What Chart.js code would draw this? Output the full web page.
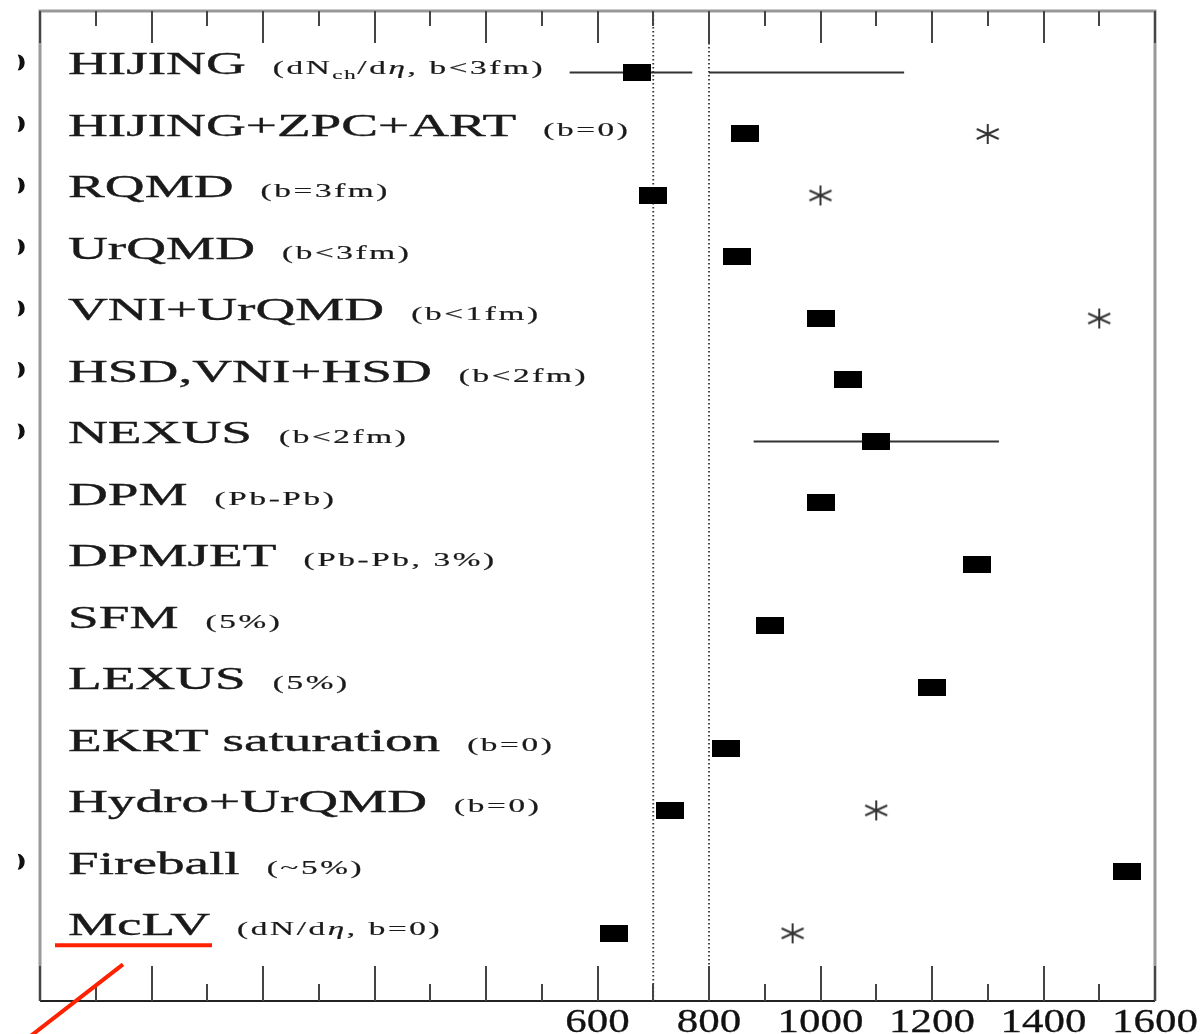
<!DOCTYPE html>
<html>
<head>
<meta charset="utf-8">
<title>Model predictions of dN/dη</title>
<script src="https://cdn.jsdelivr.net/npm/chart.js@4.4.0/dist/chart.umd.min.js"></script>
<style>
body { margin: 0; background: #fff; }
#chart { display: block; }
</style>
</head>
<body>
<canvas id="chart" width="1204" height="1034"></canvas>
<script>

// one row per model, top to bottom
var models = ['HIJING', 'HIJING+ZPC+ART', 'RQMD', 'UrQMD', 'VNI+UrQMD', 'HSD,VNI+HSD', 'NEXUS',
    'DPM', 'DPMJET', 'SFM', 'LEXUS', 'EKRT saturation', 'Hydro+UrQMD', 'Fireball', 'McLV'];
var notes = ['(dN_{ch}/dη, b<3fm)', '(b=0)', '(b=3fm)', '(b<3fm)', '(b<1fm)', '(b<2fm)', '(b<2fm)',
    '(Pb-Pb)', '(Pb-Pb, 3%)', '(5%)', '(5%)', '(b=0)', '(b=0)', '(~5%)', '(dN/dη, b=0)'];

// black squares
var multiplicity = [670, 865, 700, 850, 1000, 1050, 1100, 1000, 1280, 910, 1200, 830, 730, 1550, 630];
// asterisks
var starValues = [null, 1300, 1000, null, 1500, null, null, null, null, null, null, null, 1100, null, 950];

// horizontal bars (HIJING bar is broken around 800)
var errorRows = [0, 0, 6];
var errorFrom = [550, 800, 880];
var errorTo = [770, 1150, 1320];

// dotted vertical lines
var refLines = [700, 800];

// cut-off markers at the left edge
var leftMarkRows = [0, 1, 2, 3, 4, 5, 6, 13];
var leftMarkX = -440;

var xMin = -400;
var xMax = 1600;
var yMin = -1;
var yMax = 15.1;
var xMajorTicks = [-400, -200, 0, 200, 400, 600, 800, 1000, 1200, 1400, 1600];
var xMinorTicks = [-300, -100, 100, 300, 500, 700, 900, 1100, 1300, 1500];
var xTickLabels = [600, 800, 1000, 1200, 1400, 1600];

var serif = '"Liberation Serif", "DejaVu Serif", serif';

function makeSquare() {
    var c = document.createElement('canvas');
    c.width = 28;
    c.height = 17;
    var g = c.getContext('2d');
    g.fillStyle = '#000';
    g.fillRect(0, 0, 28, 17);
    return c;
}

function makeStar() {
    var c = document.createElement('canvas');
    c.width = 26;
    c.height = 24;
    var g = c.getContext('2d');
    g.strokeStyle = '#333';
    g.lineWidth = 2;
    g.beginPath();
    g.moveTo(13, 2); g.lineTo(13, 22);
    g.moveTo(2, 7); g.lineTo(24, 17);
    g.moveTo(2, 17); g.lineTo(24, 7);
    g.stroke();
    return c;
}

function drawText(ctx, text, x, y, font, stretch, spacing, weight) {
    ctx.save();
    ctx.font = font;
    ctx.letterSpacing = spacing + 'px';
    var w = ctx.measureText(text).width;
    ctx.translate(x, y);
    ctx.scale(stretch, 1);
    ctx.fillText(text, 0, 0);
    if (weight) {
        ctx.strokeStyle = ctx.fillStyle;
        ctx.lineWidth = weight;
        ctx.strokeText(text, 0, 0);
    }
    ctx.restore();
    return w * stretch;
}

// note text: _{..} is a subscript, η is italic
function drawNote(ctx, note, x, y) {
    var parts = note.split(/(_\{[^}]*\}|η)/);
    for (var i = 0; i < parts.length; i++) {
        var p = parts[i];
        if (!p) continue;
        if (p.indexOf('_{') === 0) {
            x += drawText(ctx, p.slice(2, -1), x, y + 5, '13px ' + serif, 1.75, 1, 0.2);
        } else if (p === 'η') {
            x += drawText(ctx, p, x, y, 'italic 19px ' + serif, 1.75, 1.5, 0.2);
        } else {
            x += drawText(ctx, p, x, y, '19px ' + serif, 1.75, 1.5, 0.2);
        }
    }
    return x;
}

var decorations = {
    id: 'decorations',
    afterDraw: function(chart) {
        var ctx = chart.ctx;
        var area = chart.chartArea;
        var xs = chart.scales.x;
        var ys = chart.scales.y;

        // frame
        ctx.save();
        ctx.strokeStyle = '#999';
        ctx.lineWidth = 3;
        ctx.beginPath();
        ctx.moveTo(area.left, area.bottom);
        ctx.lineTo(area.left, area.top);
        ctx.lineTo(area.right, area.top);
        ctx.lineTo(area.right, area.bottom);
        ctx.stroke();
        ctx.strokeStyle = '#222';
        ctx.lineWidth = 2;
        ctx.beginPath();
        ctx.moveTo(area.left, area.bottom);
        ctx.lineTo(area.right, area.bottom);
        ctx.stroke();

        // inward ticks, top and bottom
        ctx.strokeStyle = '#444';
        ctx.lineWidth = 2;
        ctx.beginPath();
        xMajorTicks.forEach(function(v) {
            var px = Math.round(xs.getPixelForValue(v));
            ctx.moveTo(px, area.top);
            ctx.lineTo(px, area.top + 32);
            ctx.moveTo(px, area.bottom);
            ctx.lineTo(px, area.bottom - 35);
        });
        xMinorTicks.forEach(function(v) {
            var px = Math.round(xs.getPixelForValue(v));
            ctx.moveTo(px, area.top);
            ctx.lineTo(px, area.top + 15);
            ctx.moveTo(px, area.bottom);
            ctx.lineTo(px, area.bottom - 17);
        });
        ctx.stroke();

        // cut-off markers outside the left border
        ctx.fillStyle = '#111';
        leftMarkRows.forEach(function(r) {
            var mx = xs.getPixelForValue(leftMarkX);
            var my = ys.getPixelForValue(r) - 10;
            ctx.beginPath();
            ctx.ellipse(mx, my, 7, 8, 0, -Math.PI / 2, Math.PI / 2);
            ctx.quadraticCurveTo(mx + 4, my, mx, my - 8);
            ctx.fill();
        });

        // tick labels
        ctx.fillStyle = '#111';
        xTickLabels.forEach(function(v) {
            var px = xs.getPixelForValue(v);
            var t = String(v);
            ctx.font = '33px ' + serif;
            var w = ctx.measureText(t).width * 1.3;
            drawText(ctx, t, px - w / 2, area.bottom + 31, '33px ' + serif, 1.3, 0, 0.3);
        });

        // model labels
        var lastX = 0, lastW = 0, lastY = 0;
        ctx.fillStyle = '#1a1a1a';
        for (var i = 0; i < models.length; i++) {
            var y = ys.getPixelForValue(i) + 2;
            var x0 = area.left + 28;
            var w = drawText(ctx, models[i], x0, y, '31px ' + serif, 1.78, 0, 0.35);
            drawNote(ctx, notes[i], x0 + w + 27, y);
            lastX = x0; lastW = w; lastY = ys.getPixelForValue(i);
        }

        // red marks under the last label
        ctx.strokeStyle = '#ff2200';
        ctx.lineWidth = 4;
        ctx.beginPath();
        ctx.moveTo(lastX - 13, lastY + 12);
        ctx.lineTo(lastX + lastW + 2, lastY + 12);
        ctx.moveTo(lastX + 55, lastY + 31);
        ctx.lineTo(lastX - 52, lastY + 114);
        ctx.stroke();
        ctx.restore();
    }
};

var datasets = [];

datasets.push({
    type: 'scatter',
    data: multiplicity.map(function(v, i) { return { x: v, y: i }; }),
    pointStyle: makeSquare(),
    pointRadius: 10
});

datasets.push({
    type: 'scatter',
    data: starValues.map(function(v, i) { return { x: v, y: i }; }).filter(function(p) { return p.x !== null; }),
    pointStyle: makeStar(),
    pointRadius: 10
});

for (var k = 0; k < errorRows.length; k++) {
    datasets.push({
        type: 'line',
        data: [{ x: errorFrom[k], y: errorRows[k] }, { x: errorTo[k], y: errorRows[k] }],
        borderColor: '#333',
        borderWidth: 2,
        pointRadius: 0
    });
}

refLines.forEach(function(v) {
    datasets.push({
        type: 'line',
        data: [{ x: v, y: yMin }, { x: v, y: yMax }],
        borderColor: '#333',
        borderWidth: 1.8,
        borderDash: [1.6, 2.4],
        pointRadius: 0
    });
});

var chart = new Chart(document.getElementById('chart'), {
    type: 'scatter',
    data: { datasets: datasets },
    options: {
        responsive: false,
        animation: false,
        devicePixelRatio: 1,
        layout: { padding: { left: 40, top: 10, right: 49, bottom: 33 } },
        plugins: { legend: { display: false }, tooltip: { enabled: false } },
        scales: {
            x: { type: 'linear', min: xMin, max: xMax, display: false },
            y: { type: 'linear', min: yMin, max: yMax, reverse: true, display: false }
        }
    },
    plugins: [decorations]
});

</script>
</body>
</html>
